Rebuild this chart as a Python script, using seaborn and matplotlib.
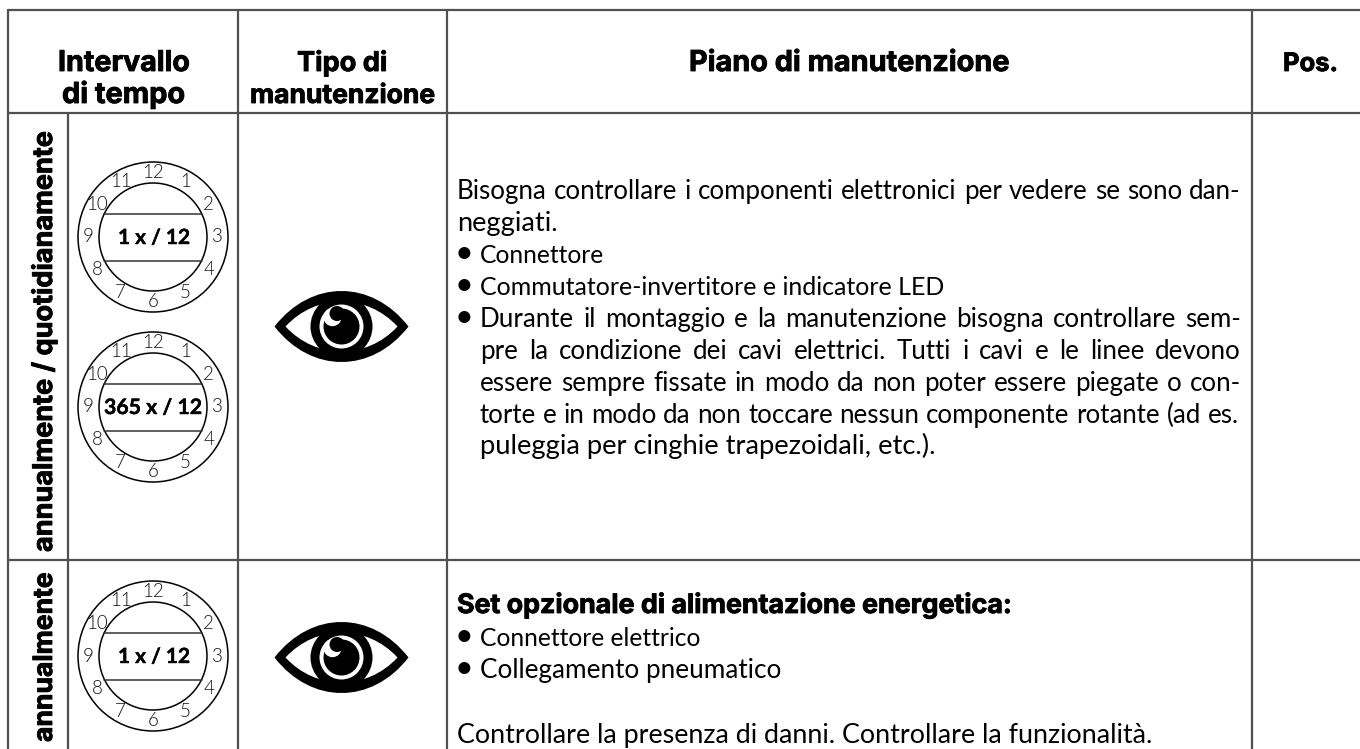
#Maintenance table, drawn on one full-figure axes in pixel units
import matplotlib
matplotlib.use('Agg')
import numpy as np
import pandas as pd
import matplotlib.pyplot as plt
import matplotlib.patheffects as pe
from matplotlib.patches import Circle, PathPatch
from matplotlib.path import Path
import seaborn as sns

# table rules
v_rules = [8, 68, 238, 446.5, 1252]
v_tops = [10, 113, 10, 10, 10]
h_rules = [10.3, 113.3, 560]
h_starts = [8, 8, 8]

# header texts
header_labels = ['Intervallo', 'di tempo', 'Tipo di', 'manutenzione', 'Piano di manutenzione', 'Pos.']
header_left = [58, 62, 297, 250, 689, 1283]
header_right = [190, 185, 387, 435, 1009, 1338]
header_base = [71, 103, 71, 103, 71, 71]

# rotated interval labels
side_labels = ['annualmente / quotidianamente', 'annualmente']
side_top = [131, 572]
side_bottom = [552, 742]

# clocks
clock_labels = ['1 x / 12', '365 x / 12', '1 x / 12']
clock_y = [237, 407, 656]
clock_text_left = [118, 104, 118]
clock_text_right = [190, 202, 190]
clock_x = 153
hours = ['12', '1', '2', '3', '4', '5', '6', '7', '8', '9', '10', '11']

eye_y = [326.5, 657.5]
eye_x = 341.5

# body text: text, left, right, baseline, and whether the spaces get stretched
body_text = [
    'Bisogna controllare i componenti elettronici per vedere se sono dan-',
    'neggiati.',
    'Connettore',
    'Commutatore-invertitore e indicatore LED',
    'Durante il montaggio e la manutenzione bisogna controllare sem-',
    'pre la condizione dei cavi elettrici. Tutti i cavi e le linee devono',
    'essere sempre fissate in modo da non poter essere piegate o con-',
    'torte e in modo da non toccare nessun componente rotante (ad es.',
    'puleggia per cinghie trapezoidali, etc.).',
    'Connettore elettrico',
    'Collegamento pneumatico',
    'Controllare la presenza di danni. Controllare la funzionalità.',
]
body_left = [457, 457, 480, 480, 480, 480, 480, 480, 480, 480, 480, 457]
body_right = [1241, 558, 605, 948, 1241, 1241, 1241, 1239, 939, 702, 782, 1155]
body_base = [199, 231, 263, 295, 327, 359, 391, 423, 454, 646, 678, 743]
body_justify = [True, False, False, False, True, True, True, True, False, False, False, False]
bullet_base = [263, 295, 327, 646, 678]

bold_heading = 'Set opzionale di alimentazione energetica:'
bold_left, bold_right, bold_base = 457, 1011, 613

LINE = '#505050'
BODY_SIZE = 18.6
HEAD_FONT = ['Inter', 'DejaVu Sans']

sns.set_theme(style='white')
plt.rcParams['font.family'] = ['Lato', 'DejaVu Sans']

fig, ax = plt.subplots(figsize=(13.6, 7.49), dpi=100)
fig.subplots_adjust(0, 0, 1, 1)
ax.set_xlim(0, 1360)
ax.set_ylim(749, 0)
ax.axis('off')

# rules through seaborn
rules = []
for i, x in enumerate(v_rules):
    rules.append(pd.DataFrame({'x': [x, x], 'y': [v_tops[i], 749], 'rule': f'v{i}'}))
for i, y in enumerate(h_rules):
    rules.append(pd.DataFrame({'x': [h_starts[i], 1360], 'y': [y, y], 'rule': f'h{i}'}))
rules = pd.concat(rules, ignore_index=True)
sns.lineplot(data=rules, x='x', y='y', units='rule', estimator=None, sort=False,
             color=LINE, linewidth=1.6, legend=False, ax=ax)
ax.set_xlim(0, 1360)
ax.set_ylim(749, 0)

renderer = fig.canvas.get_renderer()


def heavy(lw):
    # thicken the bold face a little
    return [pe.withStroke(linewidth=lw, foreground='black')]


def width_of(t):
    return t.get_window_extent(renderer).width


def fit_text(x0, x1, y, s, **kw):
    # scale the font so the text spans x0..x1
    t = ax.text(x0, y, s, va='baseline', ha='left', color='black', **kw)
    t.set_fontsize(t.get_fontsize() * (x1 - x0) / width_of(t))
    return t


def spread_text(x0, x1, y, s, size):
    # place word by word, the spaces take up what is left
    words = s.split(' ')
    parts = [ax.text(x0, y, w, va='baseline', ha='left', color='black', fontsize=size) for w in words]
    widths = [width_of(p) for p in parts]
    gap = (x1 - x0 - sum(widths)) / (len(words) - 1)
    pos = x0
    for p, w in zip(parts, widths):
        p.set_x(pos)
        pos += w + gap


def draw_clock(cx, cy, label, left, right):
    for r in [75, 54]:
        ax.add_patch(Circle((cx, cy), r, fill=False, ec='black', lw=1.1))
    # chord lines of the inner window
    half = np.sqrt(54 ** 2 - 23.5 ** 2)
    for dy in [-23.5, 23.5]:
        ax.plot([cx - half, cx + half], [cy + dy, cy + dy], color='#333333', lw=1.1)
    for i, h in enumerate(hours):
        a = np.radians(30 * i)
        ax.text(cx + 64.5 * np.sin(a), cy - 64.5 * np.cos(a), h, ha='center', va='center',
                fontsize=13.5, color='#111111', fontweight=300)
    fit_text(left, right, cy + 7, label, fontweight='bold', fontsize=16,
             path_effects=heavy(0.3))


def almond(cx, cy, hw, hh):
    # two cubic curves between the eye corners
    k = hh * 4 / 3
    verts = [(cx - hw, cy), (cx - hw * 0.45, cy - k), (cx + hw * 0.45, cy - k), (cx + hw, cy),
             (cx + hw * 0.45, cy + k), (cx - hw * 0.45, cy + k), (cx - hw, cy), (cx - hw, cy)]
    codes = [Path.MOVETO, Path.CURVE4, Path.CURVE4, Path.CURVE4,
             Path.CURVE4, Path.CURVE4, Path.CURVE4, Path.CLOSEPOLY]
    return Path(verts, codes)


def draw_eye(cx, cy):
    ax.add_patch(PathPatch(almond(cx, cy, 67, 35.5), fc='black', ec='none'))
    ax.add_patch(PathPatch(almond(cx, cy, 56, 25), fc='white', ec='none'))
    ax.add_patch(Circle((cx, cy), 31, fc='black', ec='none'))
    ax.add_patch(Circle((cx, cy), 22, fc='white', ec='none'))
    ax.add_patch(Circle((cx, cy), 18, fc='black', ec='none'))
    ax.add_patch(Circle((cx - 9, cy - 9.3), 9, fc='white', ec='none'))
    ax.add_patch(Circle((cx - 4.5, cy - 13), 7.5, fc='black', ec='none'))


# header
for s, x0, x1, y in zip(header_labels, header_left, header_right, header_base):
    fit_text(x0, x1, y, s, family=HEAD_FONT, fontweight='bold', fontsize=17, path_effects=heavy(0.6))

# rotated labels, fitted along their height, baseline on x=52
for s, top, bottom in zip(side_labels, side_top, side_bottom):
    t = ax.text(52, bottom, s, rotation=90, ha='left', va='baseline', rotation_mode='anchor',
                family=HEAD_FONT, fontweight='bold', fontsize=17, color='black', path_effects=heavy(0.6))
    ext = t.get_window_extent(renderer).height
    t.set_fontsize(t.get_fontsize() * (bottom - top) / ext)

for y, s, x0, x1 in zip(clock_y, clock_labels, clock_text_left, clock_text_right):
    draw_clock(clock_x, y, s, x0, x1)

for y in eye_y:
    draw_eye(eye_x, y)

# body
for s, x0, x1, y, just in zip(body_text, body_left, body_right, body_base, body_justify):
    if just:
        spread_text(x0, x1, y, s, BODY_SIZE)
    else:
        fit_text(x0, x1, y, s, fontsize=BODY_SIZE)
for y in bullet_base:
    ax.text(464, y, '•', ha='center', va='baseline', fontsize=BODY_SIZE * 1.25, color='black')
fit_text(bold_left, bold_right, bold_base, bold_heading, family=HEAD_FONT, fontweight='bold',
         fontsize=17, path_effects=heavy(0.6))

plt.savefig('out.png', dpi=100)
